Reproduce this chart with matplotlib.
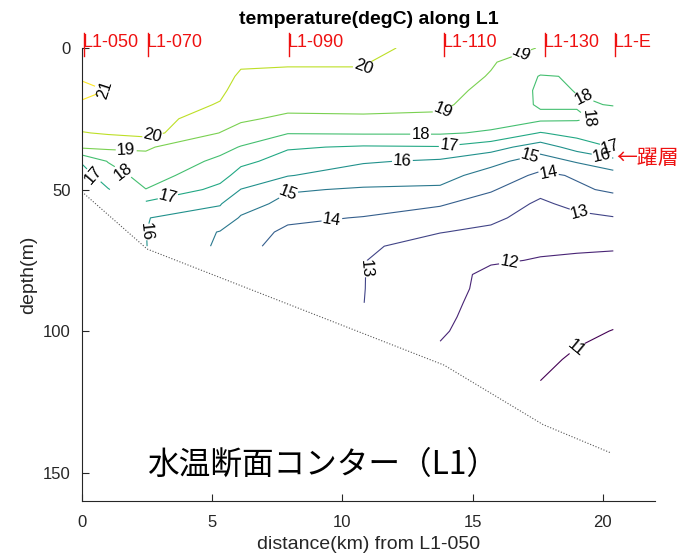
import numpy as np
import matplotlib
matplotlib.use("Agg")
import matplotlib.pyplot as plt

plt.rcParams['font.family'] = ['Liberation Sans', 'Noto Sans CJK JP', 'DejaVu Sans']

# ---------------- data ----------------
depth_levels = [0, 5, 10, 15, 20, 25, 30, 35, 40, 45, 50, 55, 60, 65, 70,
                75, 80, 85, 90, 95, 100, 105, 110, 115, 120]

# distance (km) of each temperature profile along the line
profile_x = [0.0, 1.0, 2.45, 5.3, 6.1, 7.9, 10.8, 13.75, 15.7, 17.6, 19.0, 20.4]

# temperature (degC) every 5 m from the surface down to the bottom of each cast
t_x00 = [20.6, 20.7, 20.9, 21.2, 20.9, 20.5, 19.95, 19.15, 17.1, 16.6, 16.4]
t_x01 = [20.5, 20.6, 20.8, 20.98, 20.8, 20.45, 20.1, 19.2, 18.05, 17.5, 16.95]
t_x02 = [20.5, 20.5, 20.5, 20.5, 20.45, 20.4, 20.35, 19.1, 18.75, 18.4, 17.98,
         16.8, 16.02, 16.01, 16.02]
t_x05 = [20.3, 20.3, 20.25, 20.15, 19.95, 19.5, 18.98, 18.3, 17.8, 17.4, 16.7,
         16.05, 15.7, 14.95, 14.85]
t_x06 = [20.2, 20.1, 19.9, 19.7, 19.45, 19.15, 18.6, 17.95, 17.25, 16.6, 15.98,
         15.45, 14.9, 14.5, 14.25]
t_x08 = [20.2, 20.05, 19.9, 19.6, 19.3, 18.8, 18.05, 17.1, 16.6, 16.05, 15.1,
         14.7, 14.2, 13.8, 13.7]
t_x11 = [20.3, 20.05, 19.9, 19.6, 19.3, 18.85, 18.1, 16.9, 16.1, 15.5, 14.9,
         14.5, 13.95, 13.55, 13.15, 13.03, 13.02, 13.02, 13.01]
t_x14 = [19.6, 19.5, 19.4, 19.25, 19.15, 18.85, 18.1, 16.95, 15.85, 15.35, 14.85,
         14.1, 13.55, 13.03, 12.6, 12.45, 12.35, 12.25, 12.15, 12.1, 12.05, 11.98]
t_x16 = [19.2, 19.07, 18.95, 18.8, 18.6, 18.35, 17.9, 16.4, 15.3, 14.6, 14.1,
         13.55, 13.2, 12.8, 12.45, 12.1, 11.8, 11.82, 11.82, 11.8, 11.78, 11.75, 11.7]
t_x18 = [18.98, 18.5, 17.95, 17.85, 17.9, 18.2, 16.95, 15.5, 14.5, 13.8, 13.25,
         12.85, 12.6, 12.4, 12.15, 11.95, 11.8, 11.7, 11.6, 11.5, 11.4, 11.3,
         11.15, 11.05, 10.95]
t_x19 = [18.8, 18.55, 18.05, 18.02, 17.95, 18.1, 17.35, 16.4, 15.1, 14.1, 13.85,
         13.25, 12.8, 12.5, 12.1, 11.9, 11.75, 11.6, 11.45, 11.3, 11.15, 11.02,
         10.9, 10.8, 10.7]
t_x20 = [18.6, 18.5, 18.35, 18.2, 18.02, 17.8, 17.5, 17.05, 15.7, 14.6, 14.15,
         13.55, 12.95, 12.6, 12.05, 11.9, 11.7, 11.5, 11.35, 11.15, 10.98, 10.85,
         10.75, 10.65]
profiles = [t_x00, t_x01, t_x02, t_x05, t_x06, t_x08, t_x11, t_x14, t_x16,
            t_x18, t_x19, t_x20]

contour_levels = [11, 12, 13, 14, 15, 16, 17, 18, 19, 20, 21]

# sea floor (dotted)
seafloor_x = [0.0, 2.5, 13.9, 17.7, 20.3]
seafloor_depth = [50.8, 71, 112, 133, 143]

# station marks
station_names = ['L1-050', 'L1-070', 'L1-090', 'L1-110', 'L1-130', 'L1-E']
station_x = [0.08, 2.53, 7.95, 13.9, 17.77, 20.46]

x_ticks = [0, 5, 10, 15, 20]
y_ticks = [0, 50, 100, 150]

# contour label positions (km, m)
label_spots = {
    21: [(0.85, 15.0)],
    20: [(2.7, 30.6), (10.8, 6.6)],
    19: [(1.7, 35.8), (13.9, 22.6), (16.9, 2.4)],
    18: [(1.6, 43.5), (13.0, 30.4), (19.3, 17.0), (19.45, 24.8)],
    17: [(0.45, 45.0), (3.3, 52.6), (14.1, 34.6), (20.25, 35.3)],
    16: [(2.52, 65.0), (12.3, 39.7), (19.95, 38.5)],
    15: [(7.9, 51.3), (17.2, 38.5)],
    14: [(9.6, 61.0), (17.9, 44.5)],
    13: [(10.88, 78.0), (19.1, 58.0)],
    12: [(16.4, 75.3)],
    11: [(19.0, 106.0)],
}

# ---------------- figure ----------------
fig = plt.figure(figsize=(6.96, 5.56), dpi=100)
ax = fig.add_axes([82 / 696, 55 / 556, 573 / 696, 453 / 556])

temp = np.full((len(depth_levels), len(profile_x)), np.nan)
for j, prof in enumerate(profiles):
    temp[:len(prof), j] = prof
temp = np.ma.masked_invalid(temp)

cmap = plt.get_cmap('viridis')
norm = plt.Normalize(vmin=min(contour_levels), vmax=max(contour_levels))
for lev in contour_levels:
    cs = ax.contour(profile_x, depth_levels, temp, levels=[lev],
                    colors=[cmap(norm(lev))], linewidths=0.8,
                    corner_mask=False)
    spots = label_spots.get(lev, [])
    if spots:
        ax.clabel(cs, manual=spots, inline=True, inline_spacing=2,
                  fontsize=12, colors='k', fmt='%g')

ax.plot(seafloor_x, seafloor_depth, linestyle=(0, (1, 1.6)), color='#555555',
        linewidth=0.8)

for name, sx in zip(station_names, station_x):
    ax.plot([sx, sx], [-5.3, 2.8], color='#ee1111', linewidth=1.0,
            clip_on=False)
    ax.text(sx - 0.06, -0.4, name, color='#ee1111', fontsize=13,
            ha='left', va='baseline', clip_on=False)

ax.set_xlim(0, 22)
ax.set_ylim(160, 0)
ax.set_xticks(x_ticks)
ax.set_yticks(y_ticks)
for s in ['top', 'right']:
    ax.spines[s].set_visible(False)
for s in ['left', 'bottom']:
    ax.spines[s].set_color('#262626')
    ax.spines[s].set_linewidth(0.8)
ax.tick_params(direction='in', length=5, width=0.8, colors='#262626',
               labelsize=12)
ax.tick_params(axis='x', pad=10)
ax.tick_params(axis='y', pad=8)

ax.set_xlabel('distance(km) from L1-050', fontsize=14, color='#262626')
ax.set_ylabel('depth(m)', fontsize=14, color='#262626')
ax.xaxis.set_label_coords(0.5, -0.078)
ax.yaxis.set_label_coords(-0.078, 0.5)

fig.text(368.5 / 696, 1 - 19 / 556, 'temperature(degC) along L1',
         fontsize=14, fontweight='bold', ha='center', va='center')

ax.text(2.5, 147.3, '水温断面コンター（L1）', fontsize=22.8, color='black',
        ha='left', va='center', family=['Noto Sans CJK JP', 'DejaVu Sans'])
ax.text(20.5, 39.0, '←躍層', fontsize=15, color='#ee1111', ha='left',
        va='center', clip_on=False,
        family=['Noto Sans CJK JP', 'DejaVu Sans'])

fig.savefig('out.png', dpi=100)
